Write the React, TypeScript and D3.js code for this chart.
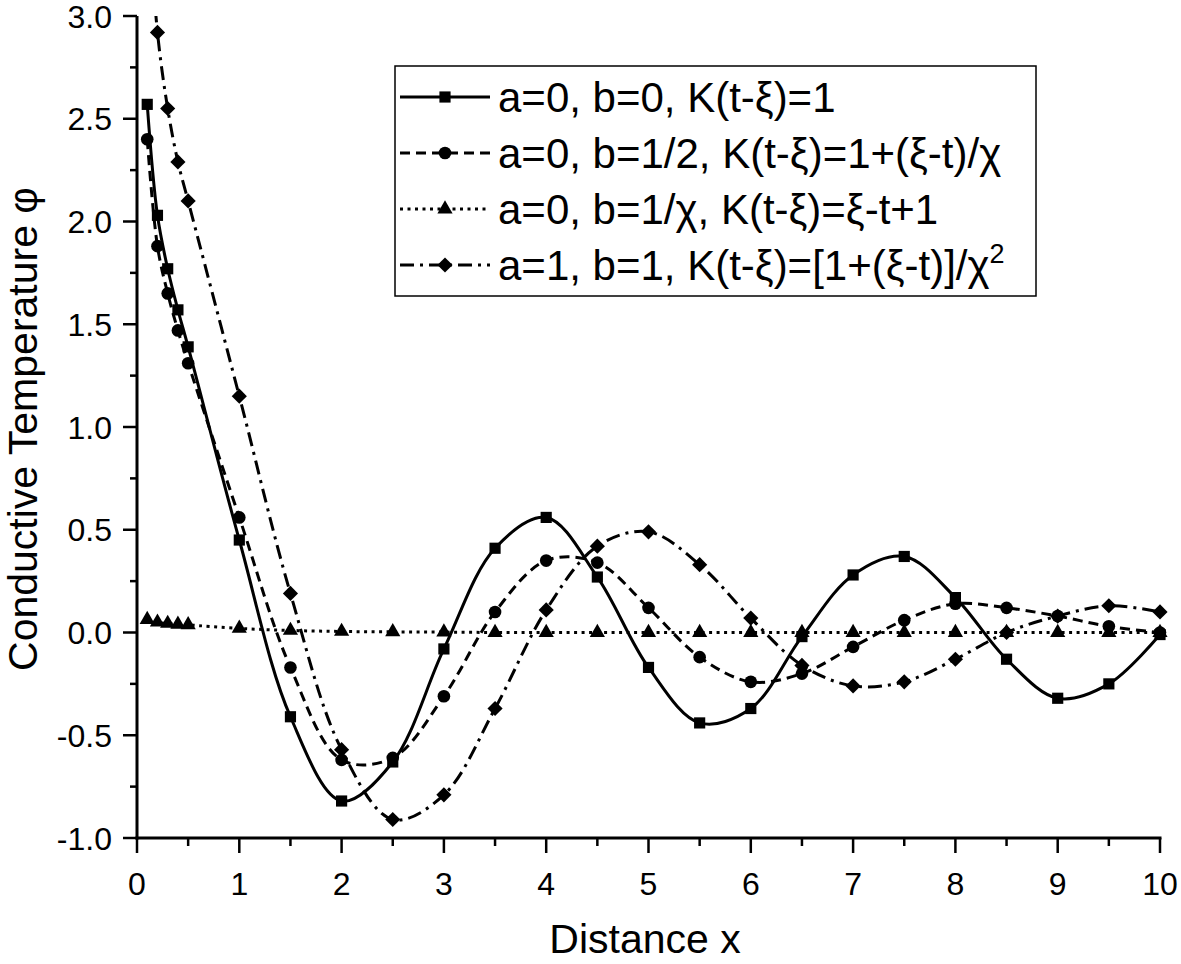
import React from "react";
import * as d3 from "d3";

// x positions of the plotted points (dense near the origin)
const xValues = [
  0.1, 0.2, 0.3, 0.4, 0.5, 1, 1.5, 2, 2.5, 3, 3.5, 4, 4.5, 5, 5.5, 6, 6.5, 7,
  7.5, 8, 8.5, 9, 9.5, 10,
];

// a=0, b=0
const seriesA = [
  2.57, 2.03, 1.77, 1.57, 1.39, 0.45, -0.41, -0.82, -0.63, -0.08, 0.41, 0.56,
  0.27, -0.17, -0.44, -0.37, -0.02, 0.28, 0.37, 0.17, -0.13, -0.32, -0.25, -0.01,
];
// a=0, b=1/2
const seriesB = [
  2.4, 1.88, 1.65, 1.47, 1.31, 0.56, -0.17, -0.62, -0.61, -0.31, 0.1, 0.35, 0.34,
  0.12, -0.12, -0.24, -0.2, -0.07, 0.06, 0.14, 0.12, 0.08, 0.03, 0.0,
];
// a=0, b=1/chi
const seriesC = [
  0.063, 0.05, 0.044, 0.04, 0.037, 0.02, 0.01, 0.005, 0.003, 0.002, 0, 0, 0, 0,
  0, 0, 0, 0, 0, 0, 0, 0, 0, 0,
];
// a=1, b=1
const seriesD = [
  3.6, 2.92, 2.55, 2.29, 2.1, 1.15, 0.19, -0.57, -0.91, -0.79, -0.37, 0.11, 0.42,
  0.49, 0.33, 0.07, -0.16, -0.26, -0.24, -0.13, 0.0, 0.08, 0.13, 0.1,
];

const xTicks = [0, 1, 2, 3, 4, 5, 6, 7, 8, 9, 10];
const yTicks = [-1.0, -0.5, 0.0, 0.5, 1.0, 1.5, 2.0, 2.5, 3.0];

const legendLabels = [
  ["a=0, b=0, K(t-ξ)=1"],
  ["a=0, b=1/2, K(t-ξ)=1+(ξ-t)/χ"],
  ["a=0, b=1/χ, K(t-ξ)=ξ-t+1"],
  ["a=1, b=1, K(t-ξ)=[1+(ξ-t)]/χ", "2"],
];

const FONT = "'Liberation Sans', Arial, Helvetica, sans-serif";

export default class App extends React.Component {
  node: any;

  componentDidMount() {
    this._drawChart();
  }

  _drawChart() {
    const left = 137;
    const right = 1160;
    const top = 16;
    const bottom = 838;

    const xScale = d3.scaleLinear().domain([0, 10]).range([left, right]);
    const yScale = d3.scaleLinear().domain([-1, 3]).range([bottom, top]);

    const svg = d3.select(this.node).attr("width", 1181).attr("height", 964);
    svg.selectAll("*").remove();

    svg
      .append("defs")
      .append("clipPath")
      .attr("id", "plotClip")
      .append("rect")
      .attr("x", left - 2)
      .attr("y", top)
      .attr("width", 1181 - left)
      .attr("height", bottom - top);

    const series = [
      { values: seriesA, dash: null, marker: "square" },
      { values: seriesB, dash: "10,6", marker: "circle" },
      { values: seriesC, dash: "3,4.5", marker: "triangle" },
      { values: seriesD, dash: "14,6,3,6", marker: "diamond" },
    ];

    const markerPath = (type: string) => {
      if (type === "square") return d3.symbol().type(d3.symbolSquare).size(125)();
      if (type === "circle") return d3.symbol().type(d3.symbolCircle).size(125)();
      if (type === "triangle")
        return d3.symbol().type(d3.symbolTriangle).size(100)();
      return d3.symbol().type(d3.symbolSquare).size(115)();
    };
    const markerRotate = (type: string) => (type === "diamond" ? " rotate(45)" : "");

    const line = d3
      .line()
      .x((d: any) => xScale(d[0]))
      .y((d: any) => yScale(d[1]))
      .curve(d3.curveCatmullRom.alpha(0.5));

    const plot = svg.append("g");

    series.forEach(s => {
      const pts = xValues.map((x, i) => [x, s.values[i]]);
      plot
        .append("path")
        .attr("clip-path", "url(#plotClip)")
        .attr("d", line(pts as any))
        .attr("fill", "none")
        .attr("stroke", "#000")
        .attr("stroke-width", 3)
        .attr("stroke-dasharray", s.dash);

      plot
        .selectAll(null)
        .data(pts.filter(p => p[1] <= 3))
        .enter()
        .append("path")
        .attr("d", markerPath(s.marker))
        .attr(
          "transform",
          d => `translate(${xScale(d[0])},${yScale(d[1])})${markerRotate(s.marker)}`
        )
        .attr("fill", "#000");
    });

    // axes
    const axes = svg.append("g").attr("stroke", "#000");
    axes
      .append("line")
      .attr("x1", left)
      .attr("x2", left)
      .attr("y1", top)
      .attr("y2", bottom + 1.5)
      .attr("stroke-width", 3);
    axes
      .append("line")
      .attr("x1", left - 1.5)
      .attr("x2", right + 1.5)
      .attr("y1", bottom)
      .attr("y2", bottom)
      .attr("stroke-width", 3);

    const xMinor = d3.range(0.5, 10, 1);
    const yMinor = d3.range(-0.75, 3, 0.5);

    axes
      .selectAll(null)
      .data(xTicks)
      .enter()
      .append("line")
      .attr("x1", d => xScale(d))
      .attr("x2", d => xScale(d))
      .attr("y1", bottom)
      .attr("y2", bottom + 15)
      .attr("stroke-width", 2.5);
    axes
      .selectAll(null)
      .data(xMinor)
      .enter()
      .append("line")
      .attr("x1", d => xScale(d))
      .attr("x2", d => xScale(d))
      .attr("y1", bottom)
      .attr("y2", bottom + 8)
      .attr("stroke-width", 2.5);
    axes
      .selectAll(null)
      .data(yTicks)
      .enter()
      .append("line")
      .attr("x1", left - 14)
      .attr("x2", left)
      .attr("y1", d => yScale(d))
      .attr("y2", d => yScale(d))
      .attr("stroke-width", 2.5);
    axes
      .selectAll(null)
      .data(yMinor)
      .enter()
      .append("line")
      .attr("x1", left - 7)
      .attr("x2", left)
      .attr("y1", d => yScale(d))
      .attr("y2", d => yScale(d))
      .attr("stroke-width", 2.5);

    // tick labels
    svg
      .selectAll(null)
      .data(xTicks)
      .enter()
      .append("text")
      .attr("x", d => xScale(d))
      .attr("y", 895)
      .attr("text-anchor", "middle")
      .attr("font-family", FONT)
      .attr("font-size", 32)
      .text(d => String(d));
    svg
      .selectAll(null)
      .data(yTicks)
      .enter()
      .append("text")
      .attr("x", left - 25)
      .attr("y", d => yScale(d) + 11.5)
      .attr("text-anchor", "end")
      .attr("font-family", FONT)
      .attr("font-size", 32)
      .text(d => d.toFixed(1));

    // axis titles
    svg
      .append("text")
      .attr("x", 645)
      .attr("y", 953)
      .attr("text-anchor", "middle")
      .attr("font-family", FONT)
      .attr("font-size", 41)
      .text("Distance x");
    svg
      .append("text")
      .attr("transform", "translate(37,429) rotate(-90)")
      .attr("text-anchor", "middle")
      .attr("font-family", FONT)
      .attr("font-size", 41)
      .text("Conductive Temperature φ");

    // legend
    const legend = svg.append("g");
    legend
      .append("rect")
      .attr("x", 395)
      .attr("y", 66)
      .attr("width", 641)
      .attr("height", 230)
      .attr("fill", "#fff")
      .attr("stroke", "#000")
      .attr("stroke-width", 1.5);

    series.forEach((s, i) => {
      const cy = 97 + i * 56;
      legend
        .append("line")
        .attr("x1", 400)
        .attr("x2", 490)
        .attr("y1", cy)
        .attr("y2", cy)
        .attr("stroke", "#000")
        .attr("stroke-width", 3)
        .attr("stroke-dasharray", s.dash);
      legend
        .append("path")
        .attr("d", markerPath(s.marker))
        .attr("transform", `translate(445,${cy})${markerRotate(s.marker)}`)
        .attr("fill", "#000");
      const t = legend
        .append("text")
        .attr("x", 498)
        .attr("y", cy + 15)
        .attr("font-family", FONT)
        .attr("font-size", 42);
      t.append("tspan").text(legendLabels[i][0]);
      if (legendLabels[i][1]) {
        t.append("tspan")
          .attr("font-size", 27)
          .attr("dy", -17)
          .text(legendLabels[i][1]);
      }
    });
  }

  render() {
    return (
      <div style={{ position: "absolute", left: 0, top: 0 }}>
        <svg ref={node => (this.node = node)} style={{ display: "block" }} />
      </div>
    );
  }
}
